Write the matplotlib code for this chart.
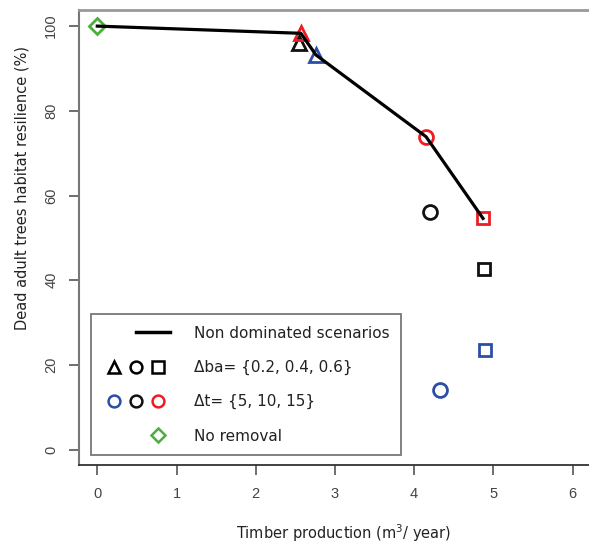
import numpy as np
import matplotlib
matplotlib.use("Agg")
import matplotlib.pyplot as plt
from matplotlib.lines import Line2D
from matplotlib.legend_handler import HandlerTuple

# scenarios: shape = delta ba, colour = delta t
dba_markers = ["^", "o", "s"]           # 0.2, 0.4, 0.6
dt_colors = ["#2b4ea6", "#111111", "#ee1c24"]  # 5, 10, 15

# timber production (m3/year), one row per delta ba, columns per delta t
timber = [
    [2.76, 2.55, 2.57],
    [4.33, 4.20, 4.15],
    [4.89, 4.88, 4.87],
]
resilience = [
    [93.2, 96.0, 98.3],
    [14.1, 56.0, 73.9],
    [23.6, 42.7, 54.6],
]

no_removal_x = [0.0]
no_removal_y = [100.0]

# non dominated front
front_x = [0.0, 2.57, 2.76, 4.15, 4.87]
front_y = [100.0, 98.3, 93.2, 73.9, 54.6]

green = "#4cae3c"

fig = plt.figure(figsize=(5.89, 5.44), dpi=100)
ax = fig.add_axes([79 / 589, 1 - 465 / 544, 510 / 589, 455 / 544])

ax.plot(front_x, front_y, color="black", lw=2.3, zorder=3)

for i, mk in enumerate(dba_markers):
    for j, c in enumerate(dt_colors):
        ms = 10.5 if mk == "^" else (10 if mk == "o" else 9)
        ax.plot(timber[i][j], resilience[i][j], marker=mk, ms=ms, mfc="none",
                mec=c, mew=2.0, linestyle="none", zorder=2)

ax.plot(no_removal_x, no_removal_y, marker="D", ms=8, mfc="none", mec=green,
        mew=2.0, linestyle="none", zorder=2)

ax.set_xlim(-0.231, 6.208)
ax.set_ylim(-3.61, 103.8)
ax.set_xticks(range(0, 7))
ax.set_yticks(range(0, 101, 20))

for lab in ax.get_xticklabels():
    lab.set_fontfamily("Liberation Sans")
for lab in ax.get_yticklabels():
    lab.set_fontfamily("Liberation Sans")
    lab.set_rotation(90)
    lab.set_va("center")
ax.tick_params(axis="x", length=7, width=1.2, color="#555555", labelcolor="#444444",
               labelsize=10.5, pad=9)
ax.tick_params(axis="y", length=7, width=1.2, color="#555555", labelcolor="#444444",
               labelsize=10.5, pad=8)

ax.spines["right"].set_visible(False)
ax.spines["top"].set_color("#999999")
ax.spines["top"].set_linewidth(2)
ax.spines["left"].set_color("#777777")
ax.spines["left"].set_linewidth(1.5)
ax.spines["bottom"].set_color("#333333")
ax.spines["bottom"].set_linewidth(1.3)

ax.set_xlabel("Timber production (m$^3$/ year)", fontsize=10.5, color="#222222")
ax.xaxis.set_label_coords(0.518, -0.126)
ax.set_ylabel("Dead adult trees habitat resilience (%)", fontsize=10.5, color="#222222")
ax.yaxis.set_label_coords(-0.098, 0.608)

# legend
blank = Line2D([], [], linestyle="none")
line_h = Line2D([], [], color="black", lw=2.5)


def mk(m, c, ms=8.5):
    return Line2D([], [], marker=m, mfc="none", mec=c, mew=1.8, ms=ms, linestyle="none")


handles = [
    (blank, line_h),
    (mk("^", "black"), mk("o", "black"), mk("s", "black")),
    (mk("o", dt_colors[0]), mk("o", dt_colors[1]), mk("o", dt_colors[2])),
    (blank, blank, mk("D", green, 7.5)),
]
labels = ["Non dominated scenarios", "\u0394ba= {0.2, 0.4, 0.6}",
          "\u0394t= {5, 10, 15}", "No removal"]

leg = ax.legend(handles, labels, handler_map={tuple: HandlerTuple(ndivide=None, pad=0)},
                loc="lower left", bbox_to_anchor=(0.0235, 0.022), borderaxespad=0,
                fontsize=11, handlelength=4.4, handletextpad=1.6, labelspacing=1.25,
                borderpad=0.75, fancybox=False, framealpha=1, edgecolor="#777777")
leg.get_frame().set_linewidth(1.3)
for t in leg.get_texts():
    t.set_color("#222222")

plt.savefig("out.png", dpi=100)
